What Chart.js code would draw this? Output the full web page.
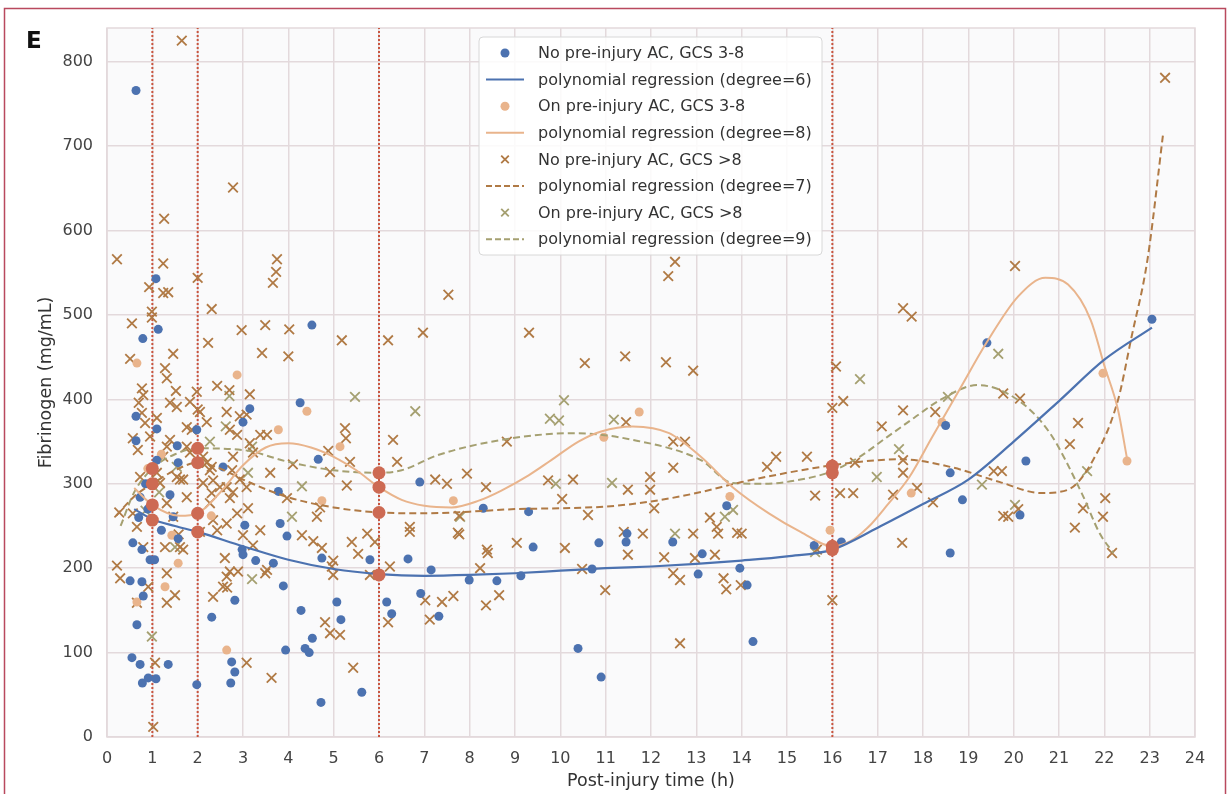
<!DOCTYPE html>
<html>
<head>
<meta charset="utf-8">
<title>Fibrinogen vs post-injury time</title>
<script src="https://cdn.jsdelivr.net/npm/chart.js@4.4.1/dist/chart.umd.min.js"></script>
<style>
    html, body { margin: 0; padding: 0; background: #ffffff; }
    #wrap { width: 1231px; height: 794px; }
</style>
</head>
<body>
<div id="wrap"><canvas id="fibChart" width="1231" height="794"></canvas></div>
<script>
// axis ticks
const xTicks = [0, 1, 2, 3, 4, 5, 6, 7, 8, 9, 10, 11, 12, 13, 14, 15, 16, 17, 18, 19, 20, 21, 22, 23, 24];
const yTicks = [0, 100, 200, 300, 400, 500, 600, 700, 800];
const markerTimes = [1, 2, 6, 16];

// [time (h), fibrinogen (mg/mL)]
const noAcSevere = [
    [0.64, 766], [1.08, 543], [1.13, 483], [0.79, 472], [0.64, 380], [0.64, 351], [1.1, 365], [1.55, 345],
    [1.98, 364], [1.57, 325], [1.1, 328], [3.15, 389], [3.0, 373], [2.56, 320], [4.52, 488], [4.26, 396],
    [4.66, 329], [3.78, 291], [6.9, 302], [1.39, 287], [0.73, 284], [1.46, 261], [3.04, 251], [3.82, 253],
    [3.97, 238], [0.57, 230], [0.77, 222], [0.51, 185], [0.77, 184], [0.8, 167], [0.66, 133], [0.55, 94],
    [0.73, 86], [0.78, 64], [0.91, 70], [1.08, 69], [1.35, 86], [0.95, 210], [1.05, 210], [1.57, 235],
    [1.98, 62], [2.31, 142], [2.82, 162], [2.98, 222], [3.0, 216], [3.28, 209], [3.67, 206], [3.89, 179],
    [2.75, 89], [2.82, 77], [2.73, 64], [3.94, 103], [4.28, 150], [4.37, 105], [4.46, 100], [4.53, 117],
    [4.72, 41], [4.74, 212], [5.07, 160], [5.16, 139], [5.62, 53], [5.8, 210], [6.17, 160], [6.28, 146],
    [6.64, 211], [6.92, 170], [7.15, 198], [7.32, 143], [7.99, 186], [8.3, 271], [8.6, 185], [9.13, 191],
    [9.3, 267], [9.4, 225], [10.39, 105], [10.7, 199], [10.85, 230], [10.9, 71], [11.47, 241], [11.45, 231],
    [12.48, 231], [13.04, 193], [13.13, 217], [13.67, 274], [13.96, 200], [14.12, 180], [14.25, 113],
    [15.6, 227], [16.2, 231], [18.6, 218], [23.05, 495], [19.41, 467], [18.5, 369], [18.6, 313], [18.87, 281],
    [20.27, 327], [20.14, 263], [0.85, 300], [0.9, 270], [1.2, 245], [0.7, 260]
];
const onAcSevere = [
    [0.66, 443], [0.66, 160], [0.9, 318], [1.0, 300], [1.2, 335], [1.28, 178], [1.43, 239], [1.57, 206],
    [2.3, 262], [2.64, 103], [2.87, 429], [3.78, 364], [4.41, 386], [4.74, 280], [5.14, 344], [7.64, 280],
    [10.96, 355], [11.74, 385], [13.74, 285], [15.95, 245], [17.74, 289], [18.42, 373], [21.97, 431], [22.5, 327]
];
const noAcMild = [
    [0.22, 566], [0.22, 203], [0.29, 188], [0.27, 266], [0.51, 448], [0.55, 490], [0.57, 354], [0.57, 265],
    [0.66, 249], [0.66, 159], [0.68, 340], [0.73, 308], [0.77, 413], [0.8, 405], [0.7, 396], [0.8, 225],
    [0.77, 384], [0.84, 372], [0.93, 533], [0.95, 356], [0.99, 504], [0.99, 497], [0.91, 178], [1.02, 12],
    [1.06, 88], [1.1, 313], [1.1, 378], [1.17, 301], [1.24, 561], [1.24, 526], [1.24, 332], [1.26, 614],
    [1.28, 437], [1.28, 225], [1.32, 425], [1.32, 277], [1.32, 194], [1.32, 159], [1.32, 344], [1.35, 527],
    [1.39, 396], [1.39, 352], [1.46, 454], [1.46, 261], [1.5, 168], [1.52, 410], [1.54, 308], [1.54, 391],
    [1.58, 240], [1.61, 305], [1.61, 225], [1.65, 825], [1.68, 305], [1.68, 222], [1.76, 367], [1.76, 344],
    [1.76, 284], [1.83, 397], [1.83, 337], [1.87, 364], [1.98, 409], [2.0, 544], [2.0, 388], [2.05, 385],
    [2.05, 243], [2.12, 332], [2.12, 301], [2.2, 373], [2.2, 325], [2.23, 467], [2.27, 316], [2.27, 277],
    [2.31, 507], [2.31, 289], [2.31, 320], [2.34, 304], [2.34, 257], [2.34, 166], [2.43, 416], [2.43, 245],
    [2.49, 296], [2.56, 178], [2.6, 212], [2.64, 385], [2.64, 296], [2.64, 253], [2.64, 190], [2.65, 177],
    [2.7, 411], [2.71, 364], [2.71, 283], [2.71, 196], [2.76, 316], [2.78, 651], [2.78, 332], [2.78, 290],
    [2.87, 358], [2.87, 265], [2.89, 196], [2.93, 380], [2.93, 305], [2.97, 482], [3.0, 239], [3.08, 382],
    [3.08, 296], [3.08, 88], [3.11, 271], [3.15, 406], [3.15, 348], [3.22, 337], [3.22, 227], [3.38, 358],
    [3.38, 245], [3.42, 455], [3.49, 488], [3.49, 194], [3.53, 198], [3.53, 358], [3.6, 313], [3.63, 70],
    [3.66, 538], [3.73, 551], [3.75, 566], [3.97, 283], [4.0, 451], [4.02, 483], [4.1, 323], [4.3, 239],
    [4.55, 232], [4.63, 261], [4.7, 272], [4.74, 224], [4.81, 136], [4.88, 339], [4.92, 314], [4.92, 123],
    [4.96, 202], [4.99, 209], [4.99, 192], [5.14, 121], [5.18, 470], [5.25, 366], [5.27, 354], [5.29, 298],
    [5.36, 326], [5.4, 231], [5.43, 82], [5.54, 217], [5.74, 241], [5.8, 192], [5.91, 231], [6.2, 470],
    [6.2, 136], [6.24, 202], [6.31, 352], [6.4, 326], [6.68, 249], [6.68, 243], [6.97, 479], [7.02, 162],
    [7.12, 139], [7.24, 305], [7.39, 160], [7.5, 300], [7.53, 524], [7.64, 167], [7.74, 242], [7.77, 262],
    [7.77, 240], [7.94, 312], [8.23, 200], [8.36, 296], [8.36, 156], [8.38, 222], [8.4, 218], [8.65, 168],
    [8.82, 350], [9.04, 230], [9.31, 479], [9.73, 304], [10.04, 282], [10.1, 224], [10.28, 305], [10.48, 199],
    [10.54, 443], [10.61, 263], [10.99, 174], [11.4, 243], [11.43, 451], [11.45, 373], [11.49, 293], [11.49, 216],
    [11.82, 241], [11.98, 308], [11.98, 293], [12.07, 271], [12.29, 213], [12.33, 444], [12.38, 546], [12.49, 350],
    [12.49, 319], [12.49, 194], [12.53, 563], [12.64, 186], [12.64, 111], [12.75, 350], [12.93, 434], [12.93, 241],
    [12.97, 212], [13.3, 260], [13.41, 216], [13.45, 249], [13.48, 241], [13.6, 188], [13.66, 175], [13.9, 242],
    [14.0, 241], [13.98, 180], [14.56, 320], [14.76, 332], [15.44, 332], [15.62, 286], [15.66, 222], [16.0, 390],
    [16.0, 162], [16.08, 439], [16.17, 289], [16.24, 398], [16.46, 289], [16.5, 325], [17.09, 368], [17.34, 287],
    [17.54, 230], [17.56, 508], [17.56, 387], [17.56, 328], [17.56, 313], [17.75, 498], [17.87, 295], [18.22, 278],
    [18.27, 385], [19.56, 315], [19.74, 315], [19.77, 407], [19.77, 262], [19.88, 261], [20.03, 558], [20.1, 270],
    [20.14, 401], [21.24, 347], [21.35, 248], [21.42, 372], [21.53, 271], [21.97, 261], [22.02, 283], [22.17, 218],
    [23.34, 781]
];
const onAcMild = [
    [0.85, 268], [1.15, 290], [1.54, 320], [1.5, 225], [2.27, 350], [2.62, 368], [2.7, 404], [3.11, 313],
    [3.2, 187], [3.2, 344], [4.08, 261], [4.3, 297], [5.47, 403], [6.8, 386], [7.79, 261], [9.77, 377],
    [9.97, 375], [9.9, 300], [10.08, 399], [11.14, 301], [11.18, 376], [12.53, 241], [13.63, 261], [13.81, 269],
    [15.62, 219], [16.61, 424], [16.98, 308], [17.47, 341], [18.55, 403], [19.3, 299], [19.66, 454], [20.03, 275],
    [21.62, 315], [0.99, 119]
];

// polynomial fits
const fit6T = [0.6, 1, 1.5, 2, 3, 4, 5, 6, 7, 8, 9, 10, 11, 12, 13, 14, 15, 16, 17, 18, 19, 20, 21, 22, 23.05];
const fit6Y = [270, 258, 250, 243, 226, 210, 199, 193, 191, 192, 194, 197, 200, 202, 205, 209, 214, 222, 248, 276, 305, 350, 398, 447, 485];
const fit8T = [0.6, 1, 1.6, 2, 2.5, 3, 3.5, 4, 4.5, 5, 5.5, 6, 6.5, 7, 7.6, 8.2, 8.7, 9.3, 9.8, 10.4, 10.9, 11.6, 12.4, 13.1, 13.8, 14.6, 15.3, 16, 16.4, 16.8, 17.2, 17.7, 18.2, 18.8, 19.4, 20.1, 20.7, 21.2, 21.7, 22, 22.3, 22.5];
const fit8Y = [295, 275, 262, 265, 290, 322, 343, 348, 343, 332, 316, 296, 281, 274, 272, 280, 292, 310, 328, 350, 362, 368, 360, 332, 296, 265, 243, 226, 232, 249, 274, 308, 355, 411, 467, 522, 544, 536, 494, 440, 388, 330];
const fit7T = [0.2, 0.6, 1, 1.5, 2, 2.5, 3, 4, 5, 6, 7, 8, 9, 10, 11, 12, 13, 14, 15, 16, 17, 17.5, 18.6, 19.7, 20.6, 21.2, 21.75, 22.3, 22.6, 22.95, 23.3];
const fit7Y = [262, 285, 300, 316, 325, 318, 305, 284, 272, 266, 265, 267, 270, 271, 273, 279, 289, 302, 313, 322, 328, 329, 320, 302, 289, 293, 328, 399, 474, 565, 716];
const fit9T = [0.3, 0.6, 1, 1.5, 2, 3, 4, 5, 6, 6.5, 7.3, 8.7, 10.3, 11.6, 13.1, 13.8, 14.5, 15.3, 16, 16.6, 17.2, 17.8, 18.4, 19.2, 20.1, 20.8, 21.5, 21.9, 22.2];
const fit9Y = [250, 290, 318, 335, 342, 340, 326, 316, 313, 316, 334, 352, 360, 352, 328, 301, 300, 305, 315, 332, 355, 378, 400, 417, 399, 360, 289, 241, 218];

// curve values at the marked time points
const markT = [1, 1, 1, 1, 2, 2, 2, 2, 6, 6, 6, 6, 16, 16, 16, 16];
const markY = [318, 300, 275, 257, 342, 325, 265, 243, 313, 296, 266, 192, 321, 313, 226, 222];

const BLUE = '#4c72b0';
const PEACH = '#e9b48c';
const BROWN = '#b07a45';
const OLIVE = '#a5a071';
const RED = '#cd6a53';
const GRID = '#e3d9dc';
const FONT = 'DejaVu Sans';

const toPoints = arr => arr.map(p => ({ x: p[0], y: p[1] }));
const zipPoints = (ts, ys) => ts.map((t, i) => ({ x: t, y: ys[i] }));

const legendItems = [
    { label: 'No pre-injury AC, GCS 3-8', kind: 'dot', color: BLUE },
    { label: 'polynomial regression (degree=6)', kind: 'line', color: BLUE, dash: [] },
    { label: 'On pre-injury AC, GCS 3-8', kind: 'dot', color: PEACH },
    { label: 'polynomial regression (degree=8)', kind: 'line', color: PEACH, dash: [] },
    { label: 'No pre-injury AC, GCS >8', kind: 'cross', color: BROWN },
    { label: 'polynomial regression (degree=7)', kind: 'line', color: BROWN, dash: [6, 3] },
    { label: 'On pre-injury AC, GCS >8', kind: 'cross', color: OLIVE },
    { label: 'polynomial regression (degree=9)', kind: 'line', color: OLIVE, dash: [6, 3] }
];

function drawCross(ctx, x, y, r, color) {
    ctx.strokeStyle = color;
    ctx.lineWidth = 1.8;
    ctx.beginPath();
    ctx.moveTo(x - r, y - r); ctx.lineTo(x + r, y + r);
    ctx.moveTo(x - r, y + r); ctx.lineTo(x + r, y - r);
    ctx.stroke();
}

const backdrop = {
    id: 'backdrop',
    beforeDraw(chart) {
        const { ctx, chartArea: a } = chart;
        ctx.save();
        ctx.fillStyle = '#ffffff';
        ctx.fillRect(0, 0, chart.width, chart.height);
        ctx.fillStyle = '#fafafb';
        ctx.fillRect(a.left, a.top, a.right - a.left, a.bottom - a.top);
        ctx.strokeStyle = GRID;
        ctx.lineWidth = 1.5;
        ctx.strokeRect(a.left, a.top, a.right - a.left, a.bottom - a.top);
        ctx.restore();
    },
    afterDraw(chart) {
        const ctx = chart.ctx;
        ctx.save();
        // panel frame
        ctx.strokeStyle = '#b9495e';
        ctx.lineWidth = 1.5;
        ctx.strokeRect(4.5, 8.5, 1221, 800);
        // panel letter
        ctx.fillStyle = '#111';
        ctx.font = 'bold 23px ' + FONT;
        ctx.textBaseline = 'alphabetic';
        ctx.fillText('E', 26, 48);

        // legend box
        const bx = 479, by = 37, bw = 343, bh = 218;
        ctx.beginPath();
        ctx.roundRect(bx, by, bw, bh, 4);
        ctx.fillStyle = 'rgba(255,255,255,0.85)';
        ctx.fill();
        ctx.strokeStyle = '#d8d8d8';
        ctx.lineWidth = 1;
        ctx.stroke();
        ctx.font = '16px ' + FONT;
        ctx.textBaseline = 'middle';
        legendItems.forEach((it, i) => {
            const y = 53 + i * 26.6;
            if (it.kind === 'dot') {
                ctx.fillStyle = it.color;
                ctx.beginPath();
                ctx.arc(505, y, 4.5, 0, Math.PI * 2);
                ctx.fill();
            } else if (it.kind === 'cross') {
                drawCross(ctx, 505, y, 3.8, it.color);
            } else {
                ctx.strokeStyle = it.color;
                ctx.lineWidth = 2;
                ctx.setLineDash(it.dash);
                ctx.beginPath();
                ctx.moveTo(486, y); ctx.lineTo(524, y);
                ctx.stroke();
                ctx.setLineDash([]);
            }
            ctx.fillStyle = '#333';
            ctx.fillText(it.label, 538, y + 1);
        });
        ctx.restore();
    }
};

const fitStyle = (color, dash, width) => ({
    showLine: true,
    pointRadius: 0,
    borderColor: color,
    borderWidth: width,
    borderDash: dash,
    cubicInterpolationMode: 'monotone',
    fill: false
});

const datasets = [
    {
        label: 'marks',
        data: zipPoints(markT, markY),
        pointRadius: 6.5,
        backgroundColor: RED,
        borderColor: RED,
        pointBorderWidth: 0
    },
    { label: 'deg6', data: zipPoints(fit6T, fit6Y), ...fitStyle(BLUE, [], 2.2) },
    { label: 'deg8', data: zipPoints(fit8T, fit8Y), ...fitStyle(PEACH, [], 2) },
    { label: 'deg7', data: zipPoints(fit7T, fit7Y), ...fitStyle(BROWN, [7, 4], 2) },
    { label: 'deg9', data: zipPoints(fit9T, fit9Y), ...fitStyle(OLIVE, [7, 4], 2) },
    {
        label: 'No pre-injury AC, GCS 3-8',
        data: toPoints(noAcSevere),
        pointRadius: 4.5,
        backgroundColor: BLUE,
        borderColor: BLUE,
        pointBorderWidth: 0
    },
    {
        label: 'On pre-injury AC, GCS 3-8',
        data: toPoints(onAcSevere),
        pointRadius: 4.5,
        backgroundColor: PEACH,
        borderColor: PEACH,
        pointBorderWidth: 0
    },
    {
        label: 'No pre-injury AC, GCS >8',
        data: toPoints(noAcMild),
        pointStyle: 'crossRot',
        pointRadius: 6.8,
        borderColor: BROWN,
        backgroundColor: BROWN,
        pointBorderWidth: 1.8
    },
    {
        label: 'On pre-injury AC, GCS >8',
        data: toPoints(onAcMild),
        pointStyle: 'crossRot',
        pointRadius: 6.8,
        borderColor: OLIVE,
        backgroundColor: OLIVE,
        pointBorderWidth: 1.8
    }
];

markerTimes.forEach(t => {
    datasets.push({
        label: 'mark ' + t,
        data: [{ x: t, y: 0 }, { x: t, y: 840 }],
        showLine: true,
        pointRadius: 0,
        borderColor: '#c9553f',
        borderWidth: 2,
        borderDash: [2, 2]
    });
});

new Chart(document.getElementById('fibChart'), {
    type: 'scatter',
    data: { datasets: datasets },
    options: {
        responsive: false,
        animation: false,
        events: [],
        layout: { padding: { left: 0, top: 28, right: 36, bottom: 0 } },
        plugins: {
            legend: { display: false },
            tooltip: { enabled: false }
        },
        scales: {
            x: {
                type: 'linear',
                min: 0,
                max: 24,
                afterBuildTicks: s => { s.ticks = xTicks.map(v => ({ value: v })); },
                afterFit: s => { s.height = 57; },
                grid: { color: GRID, lineWidth: 1.5, drawTicks: false },
                border: { display: false },
                ticks: { font: { family: FONT, size: 16 }, color: '#444', padding: 12, maxRotation: 0, autoSkip: false },
                title: {
                    display: true,
                    text: 'Post-injury time (h)',
                    font: { family: FONT, size: 17.5 },
                    color: '#333',
                    padding: { top: 0, bottom: 2.5 }
                }
            },
            y: {
                type: 'linear',
                min: 0,
                max: 840,
                afterBuildTicks: s => { s.ticks = yTicks.map(v => ({ value: v })); },
                afterFit: s => { s.width = 107; },
                grid: { color: GRID, lineWidth: 1.5, drawTicks: false },
                border: { display: false },
                ticks: { font: { family: FONT, size: 16 }, color: '#444', padding: 14 },
                title: {
                    display: true,
                    text: 'Fibrinogen (mg/mL)',
                    font: { family: FONT, size: 17.5 },
                    color: '#333',
                    padding: { top: 35.5, bottom: 0 }
                }
            }
        }
    },
    plugins: [backdrop]
});
</script>
</body>
</html>
